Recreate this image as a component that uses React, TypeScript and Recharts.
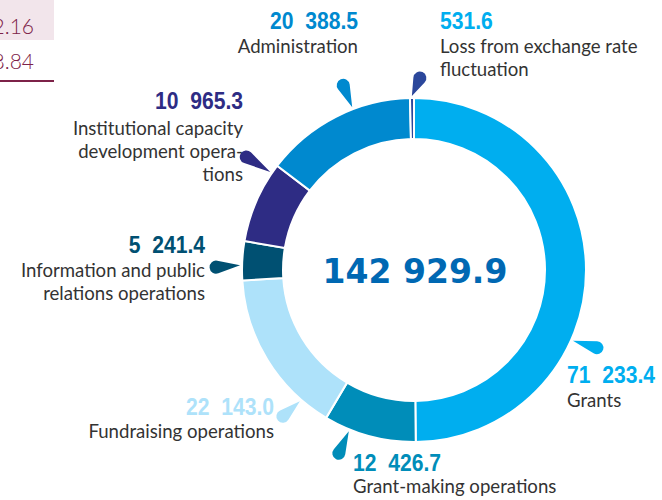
import { PieChart, Pie, Cell } from "recharts";

const CATEGORIES = [
  "Grants",
  "Grant-making operations",
  "Fundraising operations",
  "Information and public relations operations",
  "Institutional capacity development operations",
  "Administration",
  "Loss from exchange rate fluctuation",
];

const VALUES = [71233.4, 12426.7, 22143.0, 5241.4, 10965.3, 20388.5, 531.6];

// category names broken the way the printed labels are
const LABEL_LINES = [
  ["Grants"],
  ["Grant-making operations"],
  ["Fundraising operations"],
  ["Information and public", "relations operations"],
  ["Institutional capacity", "development opera-", "tions"],
  ["Administration"],
  ["Loss from exchange rate", "fluctuation"],
];

const COLORS = ["#00AEEF", "#008DB9", "#AEE2FA", "#005072", "#2E2C84", "#0089CF", "#2B479B"];
const VALUE_COLORS = ["#00AEEF", "#008DB9", "#AEE2FA", "#005072", "#2E2C84", "#0089CF", "#00AEEF"];

// where each callout sits, relative to the pie centre
const LAYOUT = [
  { angle: -24, head: [24, 7], anchor: "start", x: 153, valueY: 113, textY: 137 },
  { angle: -112, head: [-10, 22], anchor: "start", x: -61, valueY: 201, textY: 223 },
  { angle: 229, head: [-17, 15], anchor: "end", x: -140, valueY: 145, textY: 168 },
  { angle: 178.4, head: [-24, 2], anchor: "end", x: -209, valueY: -17, textY: 7 },
  { angle: 145.7, head: [-24, -15], anchor: "end", x: -171, valueY: -161, textY: -135 },
  { angle: 110.8, head: [-9, -22], anchor: "end", x: -56, valueY: -241, textY: -217 },
  { angle: 90.7, head: [8, -18], anchor: "start", x: 26, valueY: -241, textY: -217 },
];

const data = CATEGORIES.map((name, i) => ({ name, value: VALUES[i] }));

function fmt(n: number, gap = " ") {
  const [int, dec] = n.toFixed(1).split(".");
  const grouped = int.replace(/\B(?=(\d{3})+(?!\d))/g, gap);
  return grouped + "." + dec;
}

const total = VALUES.reduce((s, v) => s + v, 0);

function drop(tx: number, ty: number, hx: number, hy: number, rh: number) {
  const dx = tx - hx;
  const dy = ty - hy;
  const d = Math.hypot(dx, dy);
  const ux = dx / d;
  const uy = dy / d;
  const phi = Math.acos(rh / d);
  const rot = (ang: number) => [
    hx + rh * (ux * Math.cos(ang) - uy * Math.sin(ang)),
    hy + rh * (ux * Math.sin(ang) + uy * Math.cos(ang)),
  ];
  const p1 = rot(phi);
  const p2 = rot(-phi);
  return `M${tx},${ty} L${p1[0]},${p1[1]} A${rh},${rh} 0 1 1 ${p2[0]},${p2[1]} Z`;
}

const SQUEEZE = 0.88; // the printed figures use a condensed face

const renderLabel = (props: any) => {
  const { cx, cy, outerRadius, index } = props;
  const l = LAYOUT[index];
  const a = (l.angle * Math.PI) / 180;
  const r = outerRadius + 2;
  const tx = cx + r * Math.cos(a);
  const ty = cy - r * Math.sin(a);
  const hx = tx + l.head[0];
  const hy = ty + l.head[1];
  const x = cx + l.x;
  return (
    <g key={`callout-${index}`}>
      {index === 0 && (
        <text
          x={cx + 1}
          y={cy + 13}
          textAnchor="middle"
          fill="#0068B3"
          fontFamily="'DejaVu Sans', sans-serif"
          fontWeight="bold"
          fontSize={33}
        >
          {fmt(total)}
        </text>
      )}
      <path d={drop(tx, ty, hx, hy, 6.5)} fill={COLORS[index]} />
      <text
        transform={`translate(${x},${cy + l.valueY}) scale(${SQUEEZE},1)`}
        x={0}
        y={0}
        textAnchor={l.anchor}
        fill={VALUE_COLORS[index]}
        fontFamily="'Liberation Sans', Arial, sans-serif"
        fontWeight="bold"
        fontSize={24}
        style={{ whiteSpace: "pre" }}
      >
        {fmt(VALUES[index], "  ")}
      </text>
      {LABEL_LINES[index].map((line, j) => (
        <text
          key={j}
          x={x}
          y={cy + l.textY + j * 23}
          textAnchor={l.anchor}
          fill="#333"
          fontFamily="Lato, sans-serif"
          fontWeight={400}
          fontSize={18.6}
        >
          {line}
        </text>
      ))}
    </g>
  );
};

export default function App() {
  return (
    <div
      style={{
        position: "absolute",
        left: 0,
        top: 0,
        width: 662,
        height: 500,
        background: "#fff",
        overflow: "hidden",
      }}
    >
      {/* cut-off table from the neighbouring page */}
      <div style={{ position: "absolute", left: 0, top: 0, width: 54, height: 40, background: "#F2E5EB" }} />
      <div
        style={{
          position: "absolute",
          right: 662 - 34,
          top: -27,
          color: "#7D2248",
          fontFamily: "Lato, sans-serif",
          fontWeight: 300,
          fontSize: 21,
          lineHeight: "35px",
          textAlign: "right",
        }}
      >
        <div>0.47</div>
        <div>2.16</div>
        <div>8.84</div>
      </div>
      <div style={{ position: "absolute", left: 0, top: 80, width: 54, height: 2, background: "#7D2248" }} />

      <div style={{ position: "absolute", left: 0, top: 0 }}>
        <PieChart width={662} height={500} margin={{ top: 0, right: 0, bottom: 0, left: 0 }}>
          <Pie
            data={data}
            dataKey="value"
            nameKey="name"
            cx={414}
            cy={270}
            innerRadius={131}
            outerRadius={172}
            startAngle={90}
            endAngle={-270}
            stroke="#fff"
            strokeWidth={2}
            labelLine={false}
            label={renderLabel}
            isAnimationActive={false}
          >
            {data.map((d, i) => (
              <Cell key={d.name} fill={COLORS[i]} />
            ))}
          </Pie>
        </PieChart>
      </div>
    </div>
  );
}
